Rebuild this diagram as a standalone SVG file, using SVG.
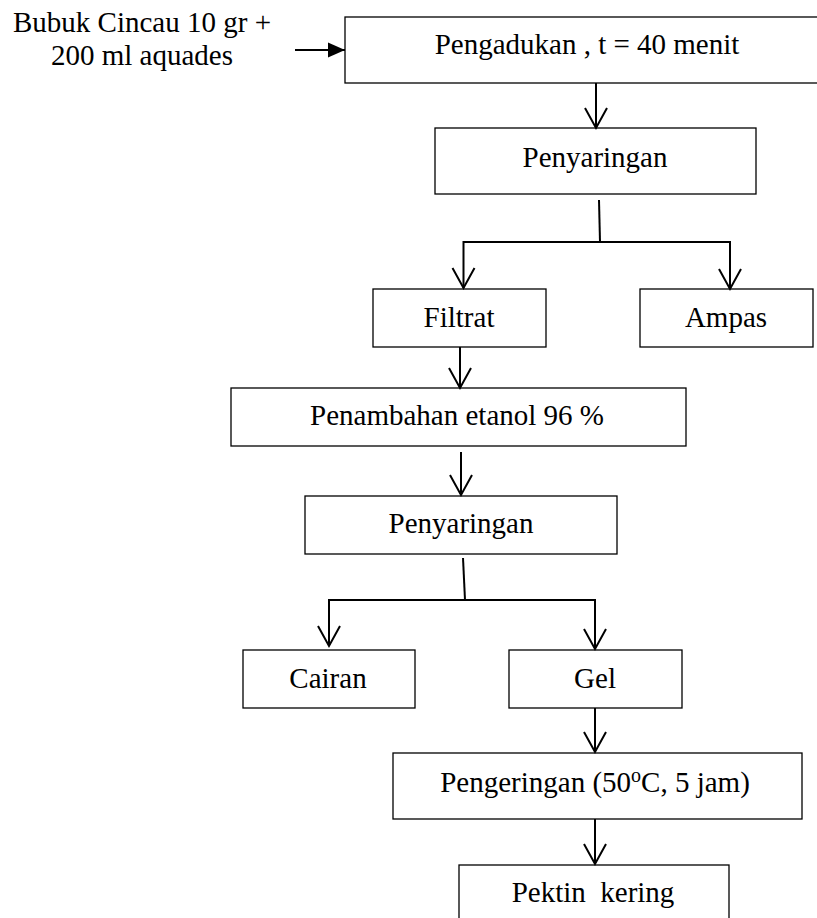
<svg xmlns="http://www.w3.org/2000/svg" width="817" height="918" viewBox="0 0 817 918">
<style>
.box{fill:#fff;stroke:#000;stroke-width:1.3}
.t{font-family:"Liberation Serif","Times New Roman",serif;font-size:29px;fill:#000}
.c{fill:none;stroke:#000;stroke-width:2}
</style>
<defs>
<marker id="v" markerUnits="userSpaceOnUse" viewBox="-23 -13 26 26" markerWidth="26" markerHeight="26" refX="0" refY="0" orient="auto" overflow="visible">
<path d="M-20,-11 L0,0 L-20,11" fill="none" stroke="#000" stroke-width="2"/>
</marker>
<marker id="f" markerUnits="userSpaceOnUse" viewBox="-18 -8 19 16" markerWidth="19" markerHeight="16" refX="0" refY="0" orient="auto" overflow="visible">
<path d="M-17,-7.5 L0,0 L-17,7.5 Z" fill="#000"/>
</marker>
</defs>
<rect width="817" height="918" fill="#fff"/>
<g id="input">
<text class="t" x="142" y="32" text-anchor="middle">Bubuk Cincau 10 gr +</text>
<text class="t" x="142" y="65" text-anchor="middle">200 ml aquades</text>
</g>
<g id="n1"><rect class="box" x="345" y="17" width="480" height="66"/><text class="t" x="587" y="54" text-anchor="middle">Pengadukan , t = 40 menit</text></g>
<g id="n2"><rect class="box" x="435" y="128" width="321" height="66"/><text class="t" x="595" y="167" text-anchor="middle">Penyaringan</text></g>
<g id="n3"><rect class="box" x="373" y="289" width="173" height="58"/><text class="t" x="459" y="327" text-anchor="middle">Filtrat</text></g>
<g id="n4"><rect class="box" x="640" y="289" width="173" height="58"/><text class="t" x="726" y="327" text-anchor="middle">Ampas</text></g>
<g id="n5"><rect class="box" x="231" y="388" width="455" height="58"/><text class="t" x="457" y="425" text-anchor="middle">Penambahan etanol 96 %</text></g>
<g id="n6"><rect class="box" x="305" y="496" width="312" height="58"/><text class="t" x="461" y="533" text-anchor="middle">Penyaringan</text></g>
<g id="n7"><rect class="box" x="243" y="650" width="172" height="58"/><text class="t" x="328" y="688" text-anchor="middle">Cairan</text></g>
<g id="n8"><rect class="box" x="509" y="650" width="173" height="58"/><text class="t" x="595" y="688" text-anchor="middle">Gel</text></g>
<g id="n9"><rect class="box" x="393" y="753" width="409" height="66"/><text class="t" x="595" y="792" text-anchor="middle">Pengeringan (50<tspan font-size="20" dy="-10">o</tspan><tspan dy="10">C, 5 jam)</tspan></text></g>
<g id="n10"><rect class="box" x="459" y="865" width="270" height="70"/><text class="t" x="593" y="902" text-anchor="middle" xml:space="preserve">Pektin  kering</text></g>
<g id="connectors">
<line class="c" x1="295" y1="50" x2="345" y2="50" stroke-width="2.5" marker-end="url(#f)"/>
<line class="c" x1="596" y1="83" x2="596" y2="128" marker-end="url(#v)"/>
<line class="c" x1="599" y1="200" x2="600" y2="242" stroke-width="1.5"/>
<line class="c" x1="463" y1="242" x2="730" y2="242"/>
<line class="c" x1="463.5" y1="241" x2="463.5" y2="288" marker-end="url(#v)"/>
<line class="c" x1="730" y1="241" x2="730" y2="289" marker-end="url(#v)"/>
<line class="c" x1="460" y1="347" x2="460" y2="388" marker-end="url(#v)"/>
<line class="c" x1="461" y1="452" x2="461" y2="495" marker-end="url(#v)"/>
<line class="c" x1="463" y1="558" x2="465" y2="600" stroke-width="1.5"/>
<line class="c" x1="329" y1="600" x2="595" y2="600"/>
<line class="c" x1="329" y1="599" x2="329" y2="646" marker-end="url(#v)"/>
<line class="c" x1="595" y1="599" x2="595" y2="649" marker-end="url(#v)"/>
<line class="c" x1="595" y1="708" x2="595" y2="752" marker-end="url(#v)"/>
<line class="c" x1="595" y1="819" x2="595" y2="864" marker-end="url(#v)"/>
</g>
</svg>
